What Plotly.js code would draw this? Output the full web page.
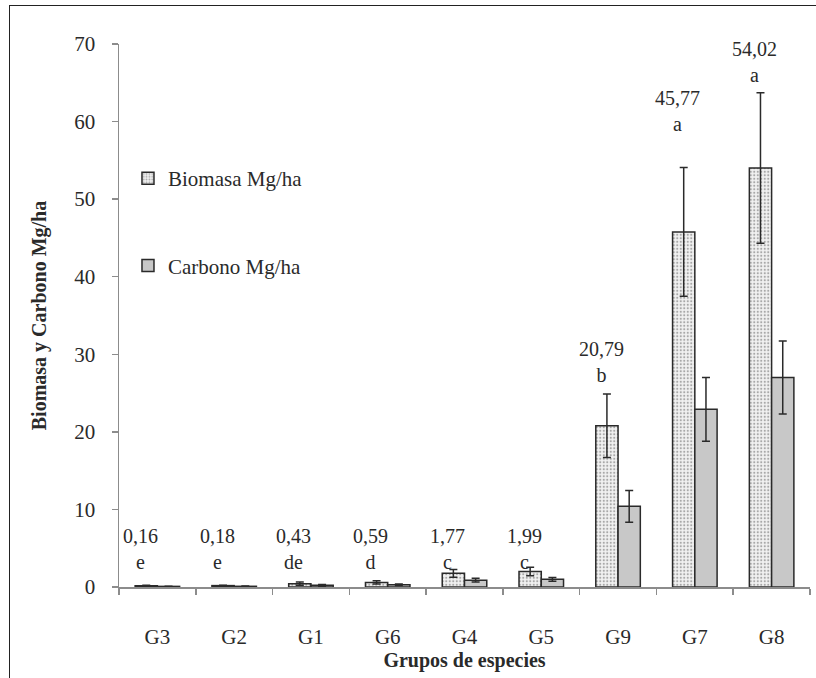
<!DOCTYPE html>
<html>
<head>
<meta charset="utf-8">
<script src="https://cdn.plot.ly/plotly-3.0.1.min.js"></script>
<style>
  html, body { margin: 0; padding: 0; background: #fff; }
  #chart { width: 816px; height: 678px; }
  #frame { position: absolute; left: 9px; top: 5px; width: 820px; height: 700px;
           border-left: 1.5px solid #222; border-top: 1.5px solid #222; pointer-events: none; }
</style>
</head>
<body>
<div id="chart"></div>
<div id="frame"></div>
<script>
const categories = ["G3", "G2", "G1", "G6", "G4", "G5", "G9", "G7", "G8"];
const biomasa    = [0.16, 0.18, 0.43, 0.59, 1.77, 1.99, 20.79, 45.77, 54.02];
const biomasaErr = [0.05, 0.05, 0.2, 0.2, 0.5, 0.55, 4.1, 8.3, 9.7];
const carbono    = [0.08, 0.09, 0.21, 0.29, 0.88, 0.99, 10.4, 22.9, 27.0];
const carbonoErr = [0.03, 0.03, 0.1, 0.1, 0.25, 0.25, 2.05, 4.1, 4.7];
const valueLabels = ["0,16", "0,18", "0,43", "0,59", "1,77", "1,99", "20,79", "45,77", "54,02"];
const letters     = ["e", "e", "de", "d", "c", "c", "b", "a", "a"];
const labelY      = [4.95, 4.95, 4.95, 4.95, 4.95, 4.95, 29.0, 61.3, 67.7];

const serif = "Liberation Serif, Times New Roman, serif";
const ink = "#2a2a2a";

const traces = [
  {
    type: "bar", name: "Biomasa Mg/ha", x: categories, y: biomasa, legendgroup: "b",
    error_y: { type: "data", array: biomasaErr, visible: true, color: ink, thickness: 1.5, width: 4 },
    marker: { color: "#eeeeee", line: { color: ink, width: 1.5 },
              pattern: { shape: ".", bgcolor: "#f2f2f2", fgcolor: "#a8a8a8", size: 3.5, solidity: 0.3 } }
  },
  {
    type: "bar", name: "Carbono Mg/ha", x: categories, y: carbono, legendgroup: "c",
    error_y: { type: "data", array: carbonoErr, visible: true, color: ink, thickness: 1.5, width: 4 },
    marker: { color: "#c8c8c8", line: { color: ink, width: 1.5 } }
  }
];

const annotations = categories.map((c, i) => ({
  x: c, y: labelY[i], xref: "x", yref: "y", xshift: -17,
  text: valueLabels[i] + "<br>" + letters[i], showarrow: false,
  yanchor: "middle", xanchor: "center",
  font: { family: serif, size: 20, color: ink }
}));

const layout = {
  width: 816, height: 678,
  margin: { l: 119, r: 6, t: 44, b: 91 },
  paper_bgcolor: "#fff", plot_bgcolor: "#fff",
  barmode: "group", bargap: 0.42, bargroupgap: 0,
  showlegend: true,
  legend: { x: 0.013, y: 0.79, xanchor: "left", yanchor: "top",
            traceorder: "grouped", tracegroupgap: 57,
            font: { family: serif, size: 21, color: ink }, bgcolor: "rgba(0,0,0,0)" },
  font: { family: serif, size: 20, color: ink },
  xaxis: {
    type: "category", showgrid: false, zeroline: false,
    showline: true, linecolor: "#8c8c8c", linewidth: 1.5,
    ticks: "outside", tickson: "boundaries", ticklen: 6, tickcolor: "#8c8c8c", tickwidth: 1.5,
    ticklabelstandoff: 30,
    tickfont: { family: serif, size: 21, color: ink },
    title: { text: "<b>Grupos de especies</b>", font: { family: serif, size: 20, color: ink }, standoff: 2 }
  },
  yaxis: {
    range: [0, 70], dtick: 10, showgrid: false, zeroline: false,
    showline: true, linecolor: "#8c8c8c", linewidth: 1.5,
    ticks: "outside", ticklen: 6, tickcolor: "#8c8c8c", tickwidth: 1.5,
    ticklabelstandoff: 12,
    tickfont: { family: serif, size: 21, color: ink },
    title: { text: "<b>Biomasa y Carbono Mg/ha</b>", font: { family: serif, size: 20, color: ink }, standoff: 22 }
  },
  annotations: annotations
};

Plotly.newPlot("chart", traces, layout, { displayModeBar: false, staticPlot: true });
</script>
</body>
</html>
